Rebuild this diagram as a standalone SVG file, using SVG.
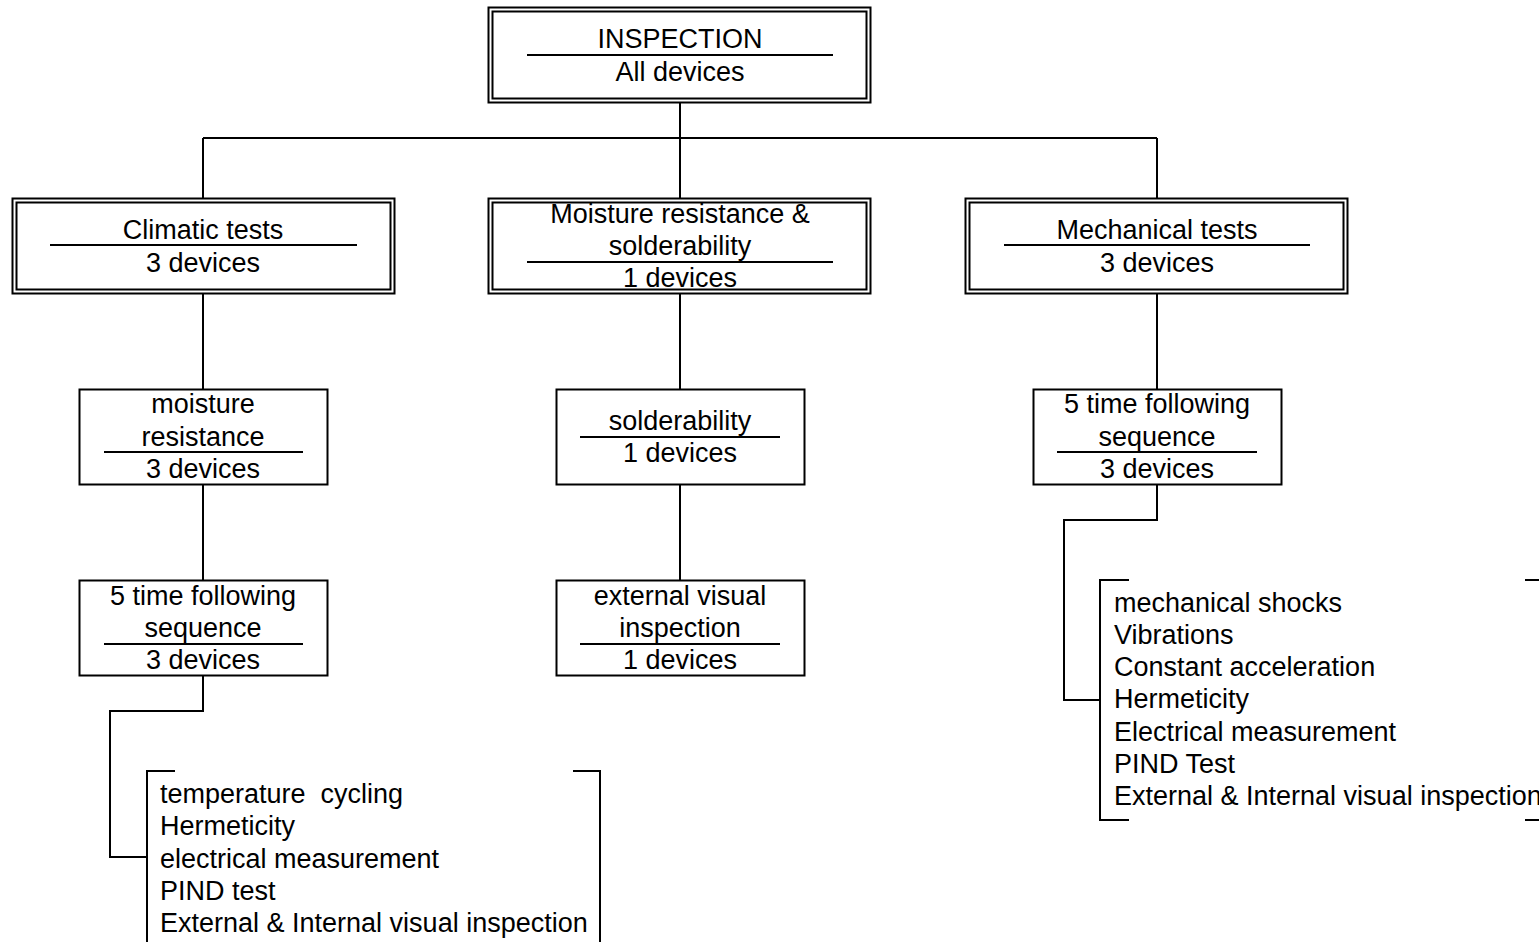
<svg xmlns="http://www.w3.org/2000/svg" width="1539" height="942" viewBox="0 0 1539 942">
<style>
  .b { fill: #ffffff; stroke: #000000; stroke-width: 2; }
  .d { stroke: #000000; stroke-width: 2; fill: none; }
  .c { stroke: #000000; stroke-width: 2; fill: none; }
  text { font-family: "Liberation Sans", Arial, sans-serif; font-size: 27px; fill: #000000; white-space: pre; }
  .m { text-anchor: middle; }
</style>
<rect width="1539" height="942" fill="#ffffff"/>
<g id="connectors">
  <path class="c" d="M680 102V138M203 138H1157M203 138V198M680 138V198M1157 138V198"/>
  <path class="c" d="M203 294V389M680 294V389M1157 294V389"/>
  <path class="c" d="M203 485V580M680 485V580"/>
  <path class="c" d="M203 676V711H110V857H147"/>
  <path class="c" d="M1157 485V520H1064V700H1100"/>
</g>
<g id="inspection">
  <rect class="b" x="488.5" y="7.5" width="382" height="95"/>
  <rect class="b" x="492.5" y="11.5" width="374" height="87"/>
  <line class="d" x1="527" y1="55" x2="833" y2="55"/>
  <text class="m" x="680" y="48">INSPECTION</text>
  <text class="m" x="680" y="81">All devices</text>
</g>
<g id="climatic">
  <rect class="b" x="12.5" y="198.5" width="382" height="95"/>
  <rect class="b" x="16.5" y="202.5" width="374" height="87"/>
  <line class="d" x1="50" y1="245" x2="357" y2="245"/>
  <text class="m" x="203" y="239">Climatic tests</text>
  <text class="m" x="203" y="272">3 devices</text>
</g>
<g id="moisture-solder">
  <rect class="b" x="488.5" y="198.5" width="382" height="95"/>
  <rect class="b" x="492.5" y="202.5" width="374" height="87"/>
  <line class="d" x1="527" y1="262" x2="833" y2="262"/>
  <text class="m" x="680" y="223">Moisture resistance &amp;</text>
  <text class="m" x="680" y="255">solderability</text>
  <text class="m" x="680" y="287">1 devices</text>
</g>
<g id="mechanical">
  <rect class="b" x="965.5" y="198.5" width="382" height="95"/>
  <rect class="b" x="969.5" y="202.5" width="374" height="87"/>
  <line class="d" x1="1004" y1="245" x2="1310" y2="245"/>
  <text class="m" x="1157" y="239">Mechanical tests</text>
  <text class="m" x="1157" y="272">3 devices</text>
</g>
<g id="moisture-resistance">
  <rect class="b" x="79.5" y="389.5" width="248" height="95"/>
  <line class="d" x1="104" y1="452" x2="303" y2="452"/>
  <text class="m" x="203" y="413">moisture</text>
  <text class="m" x="203" y="446">resistance</text>
  <text class="m" x="203" y="478">3 devices</text>
</g>
<g id="solderability">
  <rect class="b" x="556.5" y="389.5" width="248" height="95"/>
  <line class="d" x1="580" y1="437" x2="780" y2="437"/>
  <text class="m" x="680" y="430">solderability</text>
  <text class="m" x="680" y="462">1 devices</text>
</g>
<g id="mech-sequence">
  <rect class="b" x="1033.5" y="389.5" width="248" height="95"/>
  <line class="d" x1="1057" y1="452" x2="1257" y2="452"/>
  <text class="m" x="1157" y="413">5 time following</text>
  <text class="m" x="1157" y="446">sequence</text>
  <text class="m" x="1157" y="478">3 devices</text>
</g>
<g id="clim-sequence">
  <rect class="b" x="79.5" y="580.5" width="248" height="95"/>
  <line class="d" x1="104" y1="644" x2="303" y2="644"/>
  <text class="m" x="203" y="605">5 time following</text>
  <text class="m" x="203" y="637">sequence</text>
  <text class="m" x="203" y="669">3 devices</text>
</g>
<g id="external-visual">
  <rect class="b" x="556.5" y="580.5" width="248" height="95"/>
  <line class="d" x1="580" y1="644" x2="780" y2="644"/>
  <text class="m" x="680" y="605">external visual</text>
  <text class="m" x="680" y="637">inspection</text>
  <text class="m" x="680" y="669">1 devices</text>
</g>
<g id="clim-list">
  <path class="d" d="M175 771H147V942M573 771H600V942"/>
  <text x="160" y="803">temperature&#160; cycling</text>
  <text x="160" y="835">Hermeticity</text>
  <text x="160" y="868">electrical measurement</text>
  <text x="160" y="900">PIND test</text>
  <text x="160" y="932">External &amp; Internal visual inspection</text>
</g>
<g id="mech-list">
  <path class="d" d="M1129 580H1100V820H1129M1525 580H1540M1525 820H1540"/>
  <text x="1114" y="612">mechanical shocks</text>
  <text x="1114" y="644">Vibrations</text>
  <text x="1114" y="676">Constant acceleration</text>
  <text x="1114" y="708">Hermeticity</text>
  <text x="1114" y="741">Electrical measurement</text>
  <text x="1114" y="773">PIND Test</text>
  <text x="1114" y="805">External &amp; Internal visual inspection</text>
</g>
</svg>
